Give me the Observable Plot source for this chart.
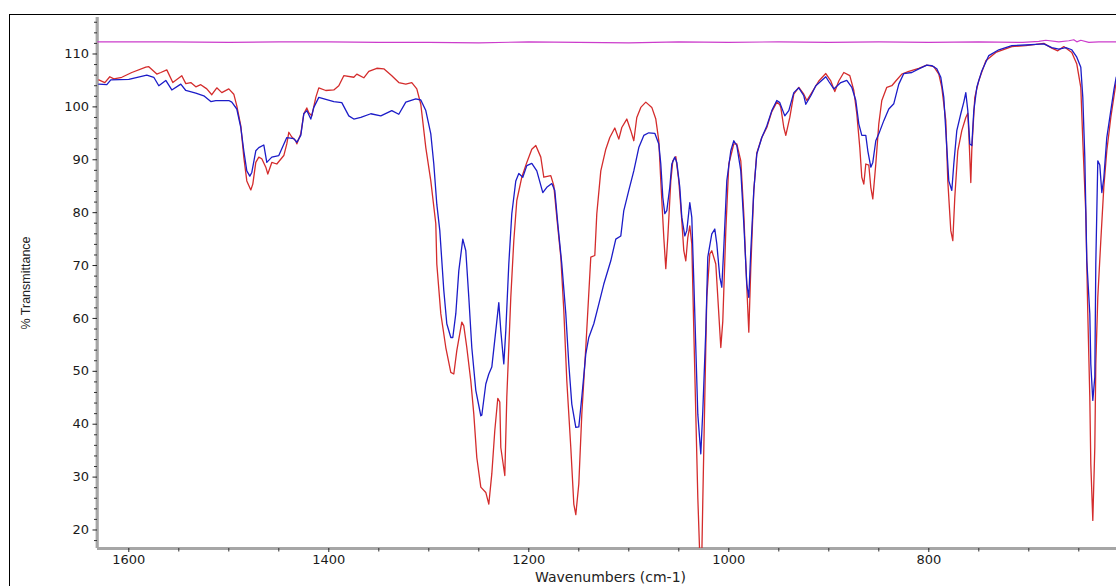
<!DOCTYPE html>
<html>
<head>
<meta charset="utf-8">
<script src="https://cdn.jsdelivr.net/npm/d3@7"></script>
<script src="https://cdn.jsdelivr.net/npm/@observablehq/plot@0.6"></script>
<style>
  html, body { margin: 0; padding: 0; background: #fff; overflow: hidden; }
  #wrap { position: relative; width: 1116px; height: 586px; }
  #frame { position: absolute; left: 9px; top: 14px; width: 1200px; height: 700px;
           border-left: 1.5px solid #000; border-top: 1.5px solid #000; }
  #chart { position: absolute; left: 0; top: 0; }
</style>
</head>
<body>
<div id="wrap"><div id="frame"></div><div id="chart"></div></div>
<script>
// ---- data ----
const xDomain = [1631.3, 612.3];
const yDomain = [16.5, 116.9];
const xMajorTicks = [1600, 1400, 1200, 1000, 800];
const xMinorTicks = [1550, 1500, 1450, 1350, 1300, 1250, 1150, 1100, 1050, 950, 900, 850, 750, 700, 650];
const yMajorTicks = [20, 30, 40, 50, 60, 70, 80, 90, 100, 110];
const yMinorTicks = [18, 22, 24, 26, 28, 32, 34, 36, 38, 42, 44, 46, 48, 52, 54, 56, 58, 62, 64, 66, 68,
                     72, 74, 76, 78, 82, 84, 86, 88, 92, 94, 96, 98, 102, 104, 106, 108, 112, 114, 116];
const xLabel = "Wavenumbers (cm-1)";
const yLabel = "% Transmittance";

const blueWn = [1630,1622,1618,1600,1582,1575,1570,1563,1557,1548,1543,1533,1525,1518,1513,1500,1497,1492,1488,1485,
  1482,1479,1477,1473,1470,1465,1462,1457,1450,1442,1435,1432,1428,1425,1422,1418,1415,1410,1395,1387,
  1380,1375,1368,1358,1348,1337,1330,1323,1313,1308,1303,1298,1295,1292,1289,1285,1282,1278,1276,1273,
  1270,1266,1263,1260,1257,1253,1248,1247,1243,1240,1237,1233,1230,1228,1225,1223,1220,1217,1213,1210,
  1206,1202,1197,1192,1186,1182,1177,1174,1171,1167,1163,1160,1157,1153,1150,1147,1143,1140,1135,1130,
  1125,1118,1113,1108,1105,1100,1095,1090,1085,1080,1074,1070,1068,1066,1064,1062,1059,1057,1054,1052,
  1049,1047,1044,1042,1039,1037,1035,1033,1031,1028,1026,1023,1021,1017,1014,1012,1009,1007,1005,1002,
  998,995,992,988,985,982,980,978,975,972,967,962,957,952,949,944,940,935,930,925,
  923,918,913,903,900,895,888,882,877,873,870,867,863,861,858,856,853,850,845,840,
  835,830,825,817,810,802,797,792,788,785,782,780,777,775,772,768,765,763,761,759,
  757,755,752,747,740,730,717,703,693,685,677,670,663,657,652,648,646,644,642,639,
  638,636,634,633,631,629,627,625,622,618,615,612.6];
const blueT = [104.3,104.2,105.1,105.2,106.0,105.6,104.0,105.0,103.2,104.3,103.1,102.6,102.1,101.0,101.2,101.2,100.9,99.6,96.1,91.7,
  87.9,86.9,87.6,91.7,92.3,92.8,89.5,90.5,90.8,94.2,94.0,93.3,94.6,98.7,99.3,97.7,99.9,101.8,101.0,100.8,
  98.3,97.7,98.0,98.7,98.3,99.3,98.6,100.9,101.5,101.3,99.3,94.9,89.2,81.6,76.6,65.3,59.0,56.4,56.4,60.9,
  69.0,75.0,72.8,64.0,54.5,46.4,41.6,41.7,47.6,49.5,50.8,57.7,63.0,57.7,51.4,57.7,70.3,79.8,86.0,87.4,
  86.7,88.9,89.3,87.9,83.8,84.8,85.5,84.2,77.9,70.3,60.9,51.4,43.8,39.4,39.5,45.1,53.3,56.4,59.0,62.7,
  66.5,70.9,75.0,75.6,80.4,84.2,87.9,92.3,94.6,95.1,95.0,93.0,89.2,82.9,79.8,80.4,84.8,89.2,90.5,89.5,
  84.8,79.1,75.6,76.6,81.9,79.1,67.1,54.5,41.9,34.4,42.5,57.7,71.6,76.0,76.9,74.1,67.8,65.9,73.4,86.0,
  91.7,93.6,92.7,87.9,77.9,66.5,64.0,72.8,84.2,91.1,94.2,96.4,99.3,101.2,100.8,98.3,99.3,102.7,103.6,102.1,
  100.5,102.1,104.0,105.7,104.8,103.4,104.6,105.0,103.7,101.2,96.8,94.6,94.6,91.7,88.6,89.5,93.6,94.9,97.4,99.6,
  100.6,104.3,106.3,106.5,107.2,107.9,107.8,107.2,105.6,101.8,92.3,86.0,84.2,89.2,95.5,98.7,100.9,102.7,99.3,93.0,
  92.7,99.3,103.7,106.8,109.7,110.8,111.6,111.7,111.8,111.9,111.2,110.9,111.2,110.8,109.4,107.5,101.8,90.5,70.9,60.9,
  51.4,44.5,48.9,70.3,89.8,89.0,83.8,86.5,94.2,99.3,103.1,105.6];

const redWn = [1630,1624,1619,1615,1607,1597,1583,1580,1572,1568,1562,1556,1547,1543,1538,1533,1528,1522,1517,1512,
  1507,1500,1495,1492,1488,1485,1482,1478,1476,1473,1470,1467,1463,1461,1457,1452,1445,1442,1440,1437,
  1433,1432,1428,1425,1422,1420,1417,1413,1410,1403,1395,1390,1385,1375,1372,1365,1360,1352,1345,1337,
  1330,1323,1317,1312,1308,1303,1298,1293,1292,1288,1283,1278,1275,1272,1267,1265,1262,1258,1255,1252,
  1248,1243,1240,1237,1234,1231,1229,1228,1224,1222,1218,1215,1212,1207,1202,1197,1193,1188,1185,1178,
  1175,1172,1168,1165,1162,1158,1155,1153,1150,1147,1143,1138,1134,1132,1128,1123,1119,1114,1110,1107,
  1102,1098,1095,1092,1088,1083,1077,1073,1070,1068,1065,1063,1061,1058,1056,1053,1050,1047,1045,1043,
  1041,1039,1037,1035,1033,1031,1029,1027,1026,1024,1022,1019,1017,1013,1011,1008,1006,1003,1000,995,
  992,988,985,983,980,978,975,972,967,962,957,952,949,948,945,943,939,935,930,925,
  922,917,910,903,898,894,890,885,879,875,872,869,867,865,863,860,858,856,853,850,
  847,842,837,833,827,820,810,802,795,790,787,783,781,778,776,774,771,767,763,761,
  760,758,757,754,750,743,733,717,703,693,685,677,671,665,657,652,648,646,643,641,
  639,638,636,634,633,631,628,625,622,618,615,612.6];
const redT = [105.1,104.6,105.7,105.3,105.6,106.5,107.5,107.6,106.2,106.5,107.0,104.6,105.9,104.4,104.6,103.8,104.2,103.4,102.3,103.6,
  102.7,103.4,102.4,100.2,96.4,90.5,86.0,84.3,85.4,89.5,90.5,90.2,88.6,87.3,89.5,89.2,90.8,93.0,95.2,94.3,
  93.6,93.0,94.9,98.7,99.8,98.9,98.3,101.8,103.6,103.1,103.2,104.0,105.9,105.6,106.2,105.5,106.7,107.3,107.2,105.9,
  104.6,104.3,104.6,103.4,100.5,92.3,86.0,77.9,70.3,60.9,54.5,49.8,49.5,53.9,59.3,58.6,54.5,48.2,41.9,33.7,
  28.1,27.1,24.9,30.6,38.8,44.9,44.2,35.6,30.3,45.1,64.0,74.7,82.3,86.7,89.5,92.0,92.7,90.5,86.7,87.0,
  85.1,79.1,71.6,61.5,48.2,35.6,24.9,22.9,28.7,41.9,54.5,71.6,71.9,79.8,87.9,92.0,94.2,96.0,93.9,96.1,
  97.7,95.5,93.6,98.0,99.9,100.9,99.9,97.7,93.6,86.0,75.3,69.4,75.3,86.0,89.8,90.6,86.0,78.5,72.8,70.9,
  75.3,77.5,74.1,57.7,41.9,26.2,15.0,15.0,25.6,45.1,64.0,72.2,72.8,70.3,64.0,54.5,59.5,76.6,89.2,93.0,
  93.0,89.8,79.8,70.3,57.4,69.6,84.2,91.3,94.2,96.1,99.1,100.9,100.4,99.9,96.1,94.6,98.0,102.4,103.7,102.4,
  101.2,102.7,104.9,106.3,104.9,102.9,104.9,106.5,105.9,103.1,98.7,92.3,86.7,85.4,89.2,89.0,84.8,82.6,89.2,96.8,
  101.2,103.7,104.0,104.9,106.2,106.7,107.3,107.9,107.6,106.2,103.7,97.4,86.0,76.6,74.7,82.9,91.7,95.5,98.0,98.8,
  95.1,85.7,91.9,101.8,105.0,108.7,110.3,111.4,111.6,111.8,112.0,111.1,110.6,111.4,110.3,108.1,103.7,93.6,79.8,60.9,
  45.1,32.5,21.8,35.6,51.4,64.0,74.7,84.8,91.7,98.0,101.8,104.8];

const magentaWn = [1631,1600,1560,1500,1450,1400,1350,1300,1250,1200,1150,1100,1050,1000,950,900,850,800,750,706,
  690,683,670,660,655,652,648,640,630,612.3];
const magentaT = [112.3,112.3,112.3,112.2,112.3,112.3,112.2,112.2,112.1,112.3,112.2,112.1,112.3,112.2,112.3,112.2,112.3,112.2,112.3,112.2,
  112.4,112.6,112.3,112.5,112.7,112.3,112.6,112.2,112.3,112.3];

// ---- build tables ----
const toRows = (wn, t) => wn.map((w, i) => ({w, t: t[i]}));
const blue = toRows(blueWn, blueT);
const red = toRows(redWn, redT);
const magenta = toRows(magentaWn, magentaT);

const chart = Plot.plot({
  width: 1116,
  height: 586,
  marginLeft: 97,
  marginRight: 0,
  marginTop: 17,
  marginBottom: 38,
  style: {fontFamily: "DejaVu Sans, Verdana, sans-serif", fontSize: "13px", background: "transparent", color: "#222"},
  x: {domain: xDomain},
  y: {domain: yDomain},
  marks: [
    Plot.ruleX([xDomain[0]], {stroke: "#a6a6a6", strokeWidth: 3.2, dx: -0.3}),
    Plot.ruleY([yDomain[0]], {stroke: "#a6a6a6", strokeWidth: 3.2}),
    Plot.axisY({ticks: yMinorTicks, tickSize: 3, tickFormat: () => "", label: null, stroke: "#333"}),
    Plot.axisX({ticks: xMinorTicks, tickSize: 3.5, tickFormat: () => "", label: null, stroke: "#333"}),
    Plot.axisY({ticks: yMajorTicks, tickSize: 4.5, tickPadding: 4, tickFormat: d3.format("d"), label: null,
      stroke: "#222", fill: "#1a1a1a", fontSize: 13}),
    Plot.axisX({ticks: xMajorTicks, tickSize: 4, tickPadding: 2, tickFormat: d3.format("d"), label: null,
      stroke: "#222", fill: "#1a1a1a", fontSize: 13}),
    Plot.line(red, {x: "w", y: "t", stroke: "#d42c2c", strokeWidth: 1.3, clip: true}),
    Plot.line(blue, {x: "w", y: "t", stroke: "#1c1cc8", strokeWidth: 1.3, clip: true}),
    Plot.line(magenta, {x: "w", y: "t", stroke: "#cc3ccc", strokeWidth: 1.2, clip: true}),
    Plot.text([yLabel], {frameAnchor: "left", textAnchor: "middle", lineAnchor: "middle", rotate: -90, dx: -72, text: d => d,
      fontFamily: "Liberation Sans, Arial, sans-serif", fontSize: 12.5, fill: "#222"}),
    Plot.text([xLabel], {frameAnchor: "bottom", textAnchor: "middle", lineAnchor: "middle", dx: 3.5, dy: 29, text: d => d,
      fontSize: 14, fill: "#222"})
  ]
});
document.getElementById("chart").appendChild(chart);
</script>
</body>
</html>
